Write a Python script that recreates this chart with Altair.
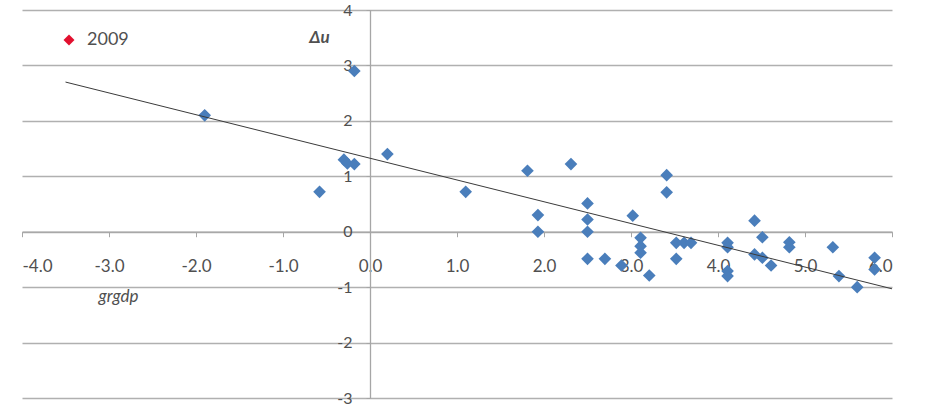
import altair as alt
import pandas as pd

# ---- data ----
gdp_growth = [-1.90, -0.18, -0.58, -0.30, -0.26, -0.18, 0.20, 1.10, 1.81, 2.31,
              3.41, 3.41, 1.93, 1.93, 2.50, 2.50, 2.50, 2.50, 2.70, 2.89,
              3.02, 3.11, 3.11, 3.11, 3.21, 3.52, 3.52, 3.61, 3.69, 4.11,
              4.11, 4.11, 4.11, 4.42, 4.51, 4.42, 4.51, 4.61, 4.82, 4.82,
              5.32, 5.39, 5.60, 5.80, 5.80]
delta_u = [2.10, 2.90, 0.72, 1.30, 1.23, 1.22, 1.40, 0.72, 1.10, 1.22,
           1.02, 0.71, 0.30, 0.00, 0.51, 0.22, 0.00, -0.49, -0.49, -0.61,
           0.29, -0.11, -0.26, -0.38, -0.79, -0.20, -0.49, -0.20, -0.20, -0.20,
           -0.28, -0.71, -0.80, 0.20, -0.10, -0.41, -0.47, -0.61, -0.19, -0.28,
           -0.28, -0.80, -1.00, -0.47, -0.68]
year_2009_x = [-1.90]
year_2009_y = [2.10]
year_label = ["2009"]
trend_x = [-3.5, 6.0]
trend_y = [2.70, -1.03]
x_ticks = [-4, -3, -2, -1, 0, 1, 2, 3, 4, 5, 6]
y_ticks = [-3, -2, -1, 0, 1, 2, 3, 4]

W, H = 870, 388
FONT = "Lato"
TXT = "#505050"

pts = pd.DataFrame({"grgdp": gdp_growth, "du": delta_u})
p09 = pd.DataFrame({"grgdp": year_2009_x, "du": year_2009_y, "year": year_label})
trend = pd.DataFrame({"grgdp": trend_x, "du": trend_y})

xscale = alt.Scale(domain=[-4, 6], nice=False, zero=False)
yscale = alt.Scale(domain=[-3, 4], nice=False, zero=False)

x_axis = alt.Axis(values=x_ticks, grid=False,
                  labelExpr="replace(format(datum.value, '.1f'), '\u2212', '-')",
                  offset=-H * 3 / 7, domainColor="#a6a6a6", domainWidth=1.3,
                  tickColor="#a6a6a6", tickSize=5, labelPadding=22,
                  labelFont=FONT, labelFontSize=17, labelColor=TXT,
                  title="grgdp", titleX=96, titleY=65, titleBaseline="middle",
                  titleFont=FONT, titleFontSize=17, titleFontStyle="italic",
                  titleFontWeight="normal", titleColor=TXT)
y_axis = alt.Axis(values=y_ticks, grid=True,
                  labelExpr="replace(format(datum.value, 'd'), '\u2212', '-')",
                  gridColor="#b0b0b0", gridWidth=1.4,
                  offset=-W * 0.4, domainColor="#a6a6a6", domainWidth=1.3,
                  tickColor="#a6a6a6", tickSize=4, labelPadding=14,
                  labelFont=FONT, labelFontSize=16, labelColor=TXT,
                  title="Δu", titleAngle=0, titleX=-51, titleY=27,
                  titleAlign="center", titleBaseline="middle",
                  titleFont=FONT, titleFontSize=17, titleFontStyle="italic",
                  titleFontWeight="bold", titleColor=TXT)

red = alt.Chart(p09).mark_point(shape="diamond", filled=True, size=120, opacity=1).encode(
    x=alt.X("grgdp:Q", scale=xscale, axis=x_axis),
    y=alt.Y("du:Q", scale=yscale, axis=y_axis),
    color=alt.Color("year:N", scale=alt.Scale(domain=["2009"], range=["#E2102F"]),
                    legend=alt.Legend(title=None, orient="none", legendX=38, legendY=21,
                                      symbolType="diamond", symbolSize=120,
                                      symbolStrokeWidth=0, padding=0, labelOffset=9,
                                      labelFont=FONT, labelFontSize=18,
                                      labelColor=TXT)),
)

blue = alt.Chart(pts).mark_point(shape="diamond", filled=True, size=160, opacity=1,
                                 color="#4A7EBB").encode(
    x=alt.X("grgdp:Q", scale=xscale),
    y=alt.Y("du:Q", scale=yscale),
)

line = alt.Chart(trend).mark_line(color="#3a3a3a", strokeWidth=1).encode(
    x=alt.X("grgdp:Q", scale=xscale),
    y=alt.Y("du:Q", scale=yscale),
)

chart = alt.layer(red, blue, line).properties(
    width=W, height=H,
    autosize=alt.AutoSizeParams(type="none"),
    padding={"left": 22, "top": 10, "right": 42, "bottom": 10},
    background="white",
).configure_view(stroke=None)

chart.save("out.html", embed_options={"renderer": "svg", "actions": False})
